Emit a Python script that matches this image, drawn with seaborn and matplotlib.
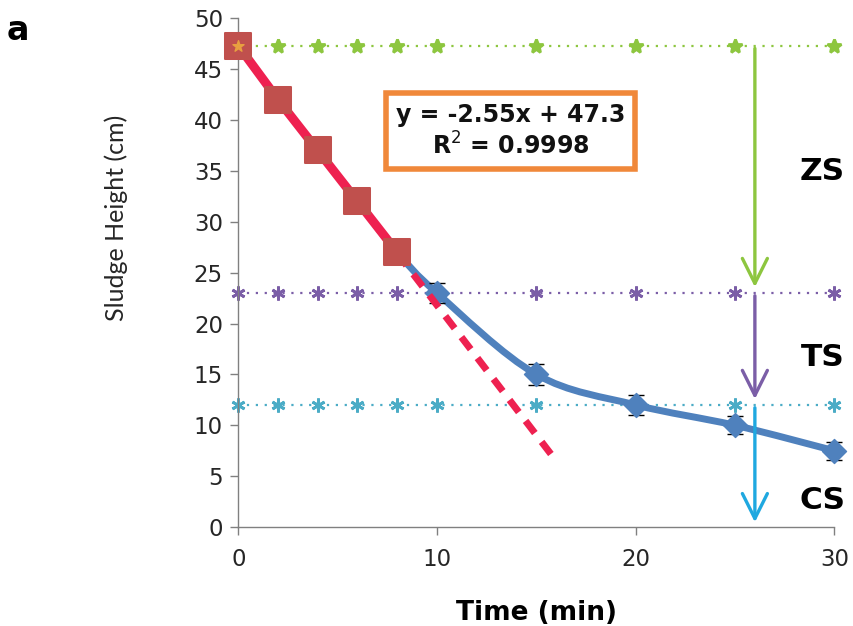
import numpy as np
import pandas as pd
import matplotlib
matplotlib.use('Agg')
import matplotlib.pyplot as plt
from matplotlib.path import Path
from matplotlib.patches import PathPatch, FancyArrowPatch
import seaborn as sns

# data
time_lin = [0, 2, 4, 6, 8]
height_lin = [47.3, 42, 37, 32, 27]
time_all = [0, 2, 4, 6, 8, 10, 15, 20, 25, 30]
height_all = [47.3, 42, 37, 32, 27, 23, 15, 12, 10, 7.5]
err_all = [0, 0, 0, 0, 0.9, 1.0, 1.0, 1.0, 0.9, 0.9]
trend_x = [8, 16]
slope, intercept, r2 = -2.55, 47.3, 0.9998
zone_levels = [47.3, 23, 12]
zone_colors = ['#8DC63F', '#7B5EA7', '#4BACC6']
zone_names = ['ZS', 'TS', 'CS']
zone_label_y = [34.9, 16.7, 2.6]
arrow_x = 26.0

sns.set_theme(style='white')
plt.rcParams['font.family'] = ['Lato', 'DejaVu Sans']
bold_font = ['DejaVu Sans']

fig = plt.figure(figsize=(8.54, 6.26), dpi=100)
ax = fig.add_axes([0.279, 0.158, 0.698, 0.813])

df_all = pd.DataFrame({'t': time_all, 'h': height_all, 'e': err_all})
df_lin = pd.DataFrame({'t': time_lin, 'h': height_lin})

# horizontal zone lines with markers
zone_markers = ['*', (6, 2, 0), (6, 2, 0)]
for lvl, col, mk in zip(zone_levels, zone_colors, zone_markers):
    ax.plot(time_all, [lvl] * len(time_all), linestyle=(0, (1, 3)), color=col,
            linewidth=1.6, marker=mk, markersize=10, markeredgewidth=2, zorder=2)

# smooth blue curve (Catmull-Rom as cubic Bezier segments)
pts = np.column_stack([time_all, height_all]).astype(float)
verts = [tuple(pts[0])]
codes = [Path.MOVETO]
for i in range(len(pts) - 1):
    p0 = pts[i - 1] if i > 0 else pts[i]
    p1, p2 = pts[i], pts[i + 1]
    p3 = pts[i + 2] if i + 2 < len(pts) else pts[i + 1]
    c1 = p1 + (p2 - p0) / 6
    c2 = p2 - (p3 - p1) / 6
    verts += [tuple(c1), tuple(c2), tuple(p2)]
    codes += [Path.CURVE4] * 3
ax.add_patch(PathPatch(Path(verts, codes), facecolor='none', edgecolor='#4F81BD',
                       linewidth=5, zorder=3, capstyle='round'))
ax.errorbar(df_all['t'][4:], df_all['h'][4:], yerr=df_all['e'][4:], fmt='none',
            ecolor='black', elinewidth=1.2, capsize=6, zorder=4)
sns.scatterplot(data=df_all.iloc[5:], x='t', y='h', marker='D', s=150,
                color='#4F81BD', edgecolor='#4F81BD', ax=ax, zorder=5)

# red linear part and trendline
trend_y = [slope * x + intercept for x in trend_x]
ax.plot(trend_x, trend_y, color='#EE2150', linewidth=5, dashes=(2.2, 1.6), zorder=6)
sns.lineplot(data=df_lin, x='t', y='h', color='#EE2150', linewidth=6.5, ax=ax, zorder=6)
sns.scatterplot(data=df_lin, x='t', y='h', marker='s', s=330, color='#C0504D',
                edgecolor='#C0504D', ax=ax, zorder=7)
ax.scatter([0], [47.3], marker='*', s=70, color='#E8A040', zorder=8)

# arrows
for top, bot, col in [(zone_levels[0], zone_levels[1] + 0.3, zone_colors[0]),
                      (zone_levels[1], zone_levels[2] + 0.3, zone_colors[1]),
                      (zone_levels[2], 0.2, '#1FA8E0')]:
    ax.add_patch(FancyArrowPatch((arrow_x, top), (arrow_x, bot), arrowstyle='->,head_width=0.45,head_length=0.9',
                                 mutation_scale=20, color=col, linewidth=2.4, zorder=4))

for name, ypos in zip(zone_names, zone_label_y):
    ax.text(29.4, ypos, name, ha='center', va='center', fontsize=22.5, fontweight='bold',
            color='black', family=bold_font)

ax.text(13.7, 38.9, f'y = {slope}x + {intercept}\nR$^2$ = {r2}', ha='center', va='center',
        fontsize=17, fontweight='bold', color='#111111', linespacing=1.25, family=bold_font,
        bbox=dict(boxstyle='square,pad=0.4', facecolor='white', edgecolor='#F0883A', linewidth=4),
        zorder=9)

ax.set_xlim(0, 30)
ax.set_ylim(0, 50)
ax.set_xticks([0, 10, 20, 30])
ax.set_yticks(range(0, 51, 5))
ax.tick_params(axis='both', which='both', direction='out', length=6, width=1, color='#808080',
               labelsize=16.5, left=True, bottom=True, pad=5)
ax.tick_params(axis='x', pad=9)
for lab in ax.get_xticklabels() + ax.get_yticklabels():
    lab.set_family('DejaVu Sans')
for side in ['top', 'right']:
    ax.spines[side].set_visible(False)
for side in ['left', 'bottom']:
    ax.spines[side].set_color('#808080')
    ax.spines[side].set_linewidth(1)
ax.set_xlabel('Time (min)', fontsize=19, fontweight='bold', family=bold_font, color='black')
ax.set_ylabel('Sludge Height (cm)', fontsize=18)
ax.yaxis.set_label_coords(-0.185, 0.607)
ax.xaxis.set_label_coords(0.5, -0.143)
for c in ax.get_children():
    c.set_clip_on(False)

fig.text(0.021, 0.952, 'a', fontsize=24, fontweight='bold', va='center', ha='center',
         family=bold_font, color='black')

fig.savefig('out.png', dpi=100)
